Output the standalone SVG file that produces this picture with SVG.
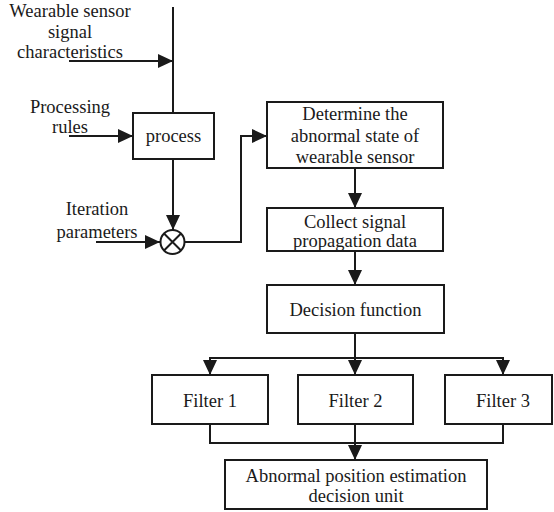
<svg xmlns="http://www.w3.org/2000/svg" width="554" height="512" viewBox="0 0 554 512">
<style>
.box{fill:#fff;stroke:#1a1a1a;stroke-width:2}
.ln{fill:none;stroke:#1a1a1a;stroke-width:2}
.t{font-family:'Liberation Serif','Times New Roman','DejaVu Serif',serif;font-size:18.5px;fill:#1a1a1a;text-anchor:middle}
</style>
<defs>
<marker id="ah" markerUnits="userSpaceOnUse" markerWidth="16" markerHeight="16" refX="15" refY="7" orient="auto">
<path d="M0,0 L15,7 L0,14 z" fill="#1a1a1a"/>
</marker>
</defs>
<rect width="554" height="512" fill="#fff"/>
<g id="connectors">
<path class="ln" d="M173,7 V113"/>
<path class="ln" d="M69,61 H173" marker-end="url(#ah)"/>
<path class="ln" d="M69,136 H133" marker-end="url(#ah)"/>
<path class="ln" d="M173,159 V230" marker-end="url(#ah)"/>
<path class="ln" d="M96,242 H160" marker-end="url(#ah)"/>
<path class="ln" d="M185,242 H241 V136 H267" marker-end="url(#ah)"/>
<path class="ln" d="M355,168 V208" marker-end="url(#ah)"/>
<path class="ln" d="M355,251 V285" marker-end="url(#ah)"/>
<path class="ln" d="M355,333 V358 M209,358 H504"/>
<path class="ln" d="M210,358 V375" marker-end="url(#ah)"/>
<path class="ln" d="M355,358 V375" marker-end="url(#ah)"/>
<path class="ln" d="M503,358 V375" marker-end="url(#ah)"/>
<path class="ln" d="M210,424 V443 H503 V424"/>
<path class="ln" d="M355,424 V460" marker-end="url(#ah)"/>
</g>
<g id="label-wearable">
<text class="t" x="70" y="17">Wearable sensor</text>
<text class="t" x="70" y="37.5">signal</text>
<text class="t" x="70" y="58">characteristics</text>
</g>
<g id="label-rules">
<text class="t" x="70" y="113">Processing</text>
<text class="t" x="70" y="133">rules</text>
</g>
<g id="label-iteration">
<text class="t" x="97" y="215">Iteration</text>
<text class="t" x="97" y="238">parameters</text>
</g>
<g id="process">
<rect class="box" x="133" y="113" width="81" height="46"/>
<text class="t" x="173.5" y="142">process</text>
</g>
<g id="multiplier">
<circle class="ln" cx="172.5" cy="242" r="12"/>
<path class="ln" d="M164,233.5 L181,250.5 M181,233.5 L164,250.5"/>
</g>
<g id="determine">
<rect class="box" x="267" y="102" width="176" height="66"/>
<text class="t" x="355" y="120">Determine the</text>
<text class="t" x="355" y="141.5">abnormal state of</text>
<text class="t" x="355" y="163">wearable sensor</text>
</g>
<g id="collect">
<rect class="box" x="267" y="208" width="176" height="43"/>
<text class="t" x="355" y="227.5">Collect signal</text>
<text class="t" x="355" y="246.5">propagation data</text>
</g>
<g id="decision">
<rect class="box" x="267" y="285" width="177" height="48"/>
<text class="t" x="355.5" y="316">Decision function</text>
</g>
<g id="filter1">
<rect class="box" x="152" y="375" width="116" height="49"/>
<text class="t" x="210" y="407">Filter 1</text>
</g>
<g id="filter2">
<rect class="box" x="298" y="375" width="115" height="49"/>
<text class="t" x="355.5" y="407">Filter 2</text>
</g>
<g id="filter3">
<rect class="box" x="445" y="375" width="107" height="49"/>
<text class="t" x="503" y="407">Filter 3</text>
</g>
<g id="estimation">
<rect class="box" x="225" y="460" width="262" height="49"/>
<text class="t" x="356" y="482">Abnormal position estimation</text>
<text class="t" x="356" y="502">decision unit</text>
</g>
</svg>
